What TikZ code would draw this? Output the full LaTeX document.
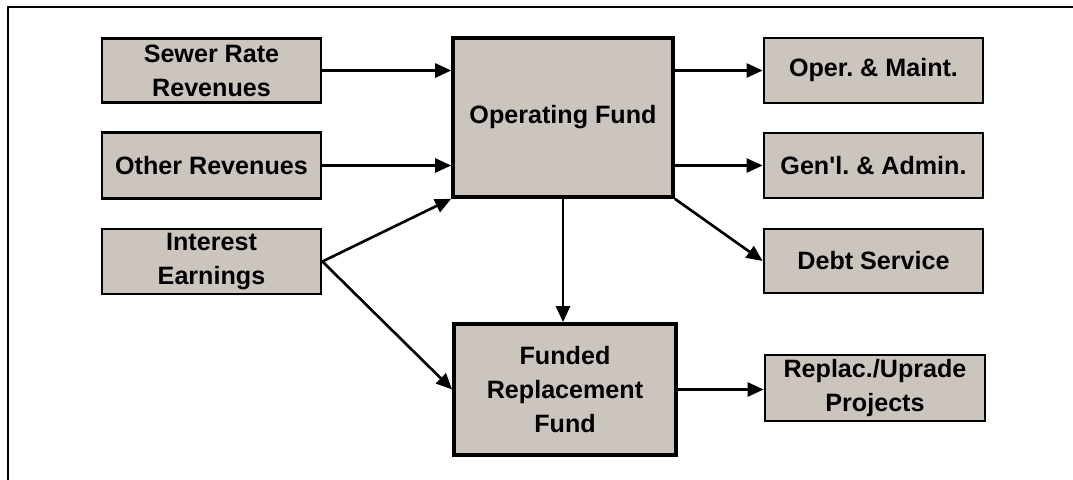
\documentclass[tikz,border=0pt]{standalone}
\usepackage{fontspec}
\setmainfont{Liberation Sans}
\usepackage{tikz}
\usetikzlibrary{arrows.meta}
\frenchspacing

\definecolor{boxfill}{RGB}{203,197,190}

\tikzset{
  fundbox/.style={draw, line width=1.6pt, fill=boxfill, align=center,
    font=\fontsize{14.3}{19.5}\selectfont\bfseries, inner sep=2pt},
  bigbox/.style={fundbox, line width=2.1pt},
  flow/.style={line width=1.5pt, -{Triangle[length=0.32cm, width=0.28cm]}}
}

\begin{document}
\begin{tikzpicture}[x=0.02cm, y=-0.02cm]
			\useasboundingbox (0,0) rectangle (1073,480);
			\draw[line width=1.1pt] (8,480)--(8,7)--(1073,7);

			% sources
			\node[fundbox, minimum width=4.38cm, minimum height=1.28cm] (sewer) at (211.5,70.5) {Sewer Rate\\Revenues};
			\node[fundbox, minimum width=4.38cm, minimum height=1.32cm] (other) at (211.5,165.5) {Other Revenues};
			\node[fundbox, minimum width=4.38cm, minimum height=1.3cm] (interest) at (211.5,261.5) {Interest\\Earnings};

			% funds
			\node[bigbox, minimum width=4.4cm, minimum height=3.18cm] (opfund) at (563,117.5) {Operating Fund};
			\node[bigbox, minimum width=4.44cm, minimum height=2.62cm] (replfund) at (565,389.5) {Funded\\Replacement\\Fund};

			% uses
			\node[fundbox, minimum width=4.38cm, minimum height=1.3cm] (oandm) at (873.5,70.5) {Oper. \& Maint.};
			\node[fundbox, minimum width=4.38cm, minimum height=1.3cm] (ganda) at (873.5,165.5) {Gen\textquotesingle l. \& Admin.};
			\node[fundbox, minimum width=4.38cm, minimum height=1.28cm] (debt) at (873.5,261) {Debt Service};
			\node[fundbox, minimum width=4.4cm, minimum height=1.32cm] (projects) at (875,388) {Replac./Uprade\\Projects};

			\draw[flow] (sewer.east)--(sewer.east -| opfund.west);
			\draw[flow] (other.east)--(other.east -| opfund.west);
			\draw[flow] (interest.east)--(opfund.south west);
			\draw[flow] (interest.east)--(replfund.west);

			\draw[flow] (opfund.east |- oandm.west)--(oandm.west);
			\draw[flow] (opfund.east |- ganda.west)--(ganda.west);
			\draw[flow] (opfund.south east)--(debt.west);
			\draw[flow] (opfund.south)--(opfund.south |- replfund.north);
			\draw[flow] (replfund.east)--(replfund.east -| projects.west);
		\end{tikzpicture}
\end{document}
